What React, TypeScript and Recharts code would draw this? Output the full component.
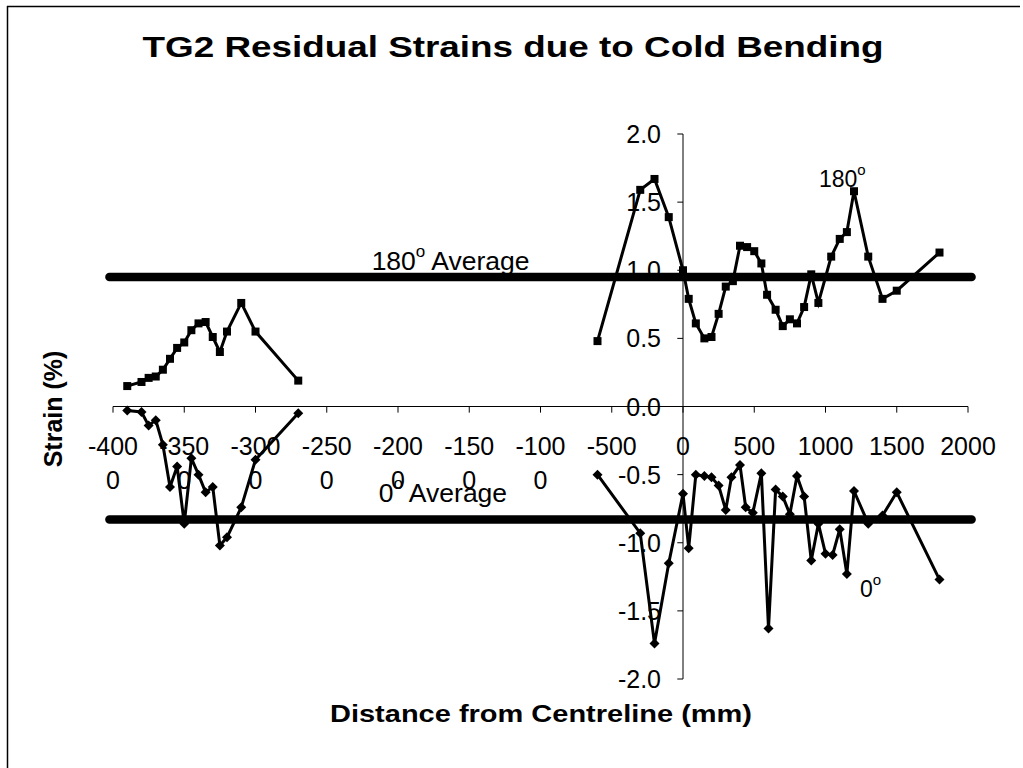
import React from 'react';
import { ComposedChart, Line, XAxis, YAxis, ReferenceLine, ReferenceDot } from 'recharts';

const FONT = '"Liberation Sans", Arial, Helvetica, sans-serif';

// ---- data ----
const left180X = [-3900, -3800, -3750, -3700, -3650, -3600, -3550, -3500, -3450, -3400, -3350, -3300, -3250, -3200, -3100, -3000, -2700];
const left180Y = [0.15, 0.18, 0.21, 0.22, 0.27, 0.35, 0.43, 0.47, 0.56, 0.61, 0.62, 0.51, 0.40, 0.55, 0.76, 0.55, 0.19];
const left0X = [-3900, -3800, -3750, -3700, -3650, -3600, -3550, -3500, -3450, -3400, -3350, -3300, -3250, -3200, -3100, -3000, -2700];
const left0Y = [-0.03, -0.04, -0.14, -0.10, -0.28, -0.59, -0.44, -0.86, -0.38, -0.50, -0.63, -0.59, -1.02, -0.96, -0.74, -0.39, -0.05];

const right180X = [-600, -300, -200, -100, 0, 40, 90, 150, 200, 250, 300, 350, 400, 450, 500, 550, 590, 650, 700, 750, 800, 850, 900, 950, 1040, 1100, 1150, 1200, 1300, 1400, 1500, 1800];
const right180Y = [0.48, 1.59, 1.67, 1.39, 1.00, 0.79, 0.61, 0.50, 0.51, 0.68, 0.88, 0.92, 1.18, 1.17, 1.14, 1.05, 0.82, 0.71, 0.59, 0.64, 0.61, 0.73, 0.97, 0.76, 1.10, 1.23, 1.28, 1.58, 1.10, 0.79, 0.85, 1.13];
const right0X = [-600, -300, -200, -100, 0, 40, 90, 150, 200, 250, 300, 340, 400, 440, 490, 550, 600, 650, 700, 750, 800, 850, 900, 950, 1000, 1050, 1100, 1150, 1200, 1300, 1400, 1500, 1800];
const right0Y = [-0.50, -0.93, -1.74, -1.15, -0.64, -1.04, -0.50, -0.51, -0.52, -0.58, -0.76, -0.52, -0.43, -0.74, -0.78, -0.49, -1.63, -0.61, -0.66, -0.79, -0.51, -0.66, -1.13, -0.86, -1.08, -1.09, -0.90, -1.23, -0.62, -0.86, -0.80, -0.63, -1.27];

const avg180 = 0.95;
const avg0 = -0.83;
const avgLineX = [-4025, 2025];

const xTicks = [-4000, -3500, -3000, -2500, -2000, -1500, -1000, -500, 0, 500, 1000, 1500, 2000];
const yTicks = [-2.0, -1.5, -1.0, -0.5, 0.0, 0.5, 1.0, 1.5, 2.0];

const title = 'TG2 Residual Strains due to Cold Bending';
const xTitle = 'Distance from Centreline (mm)';
const yTitle = 'Strain (%)';

// annotation anchors (data coords)
const ann180Avg = { x: -2185, y: 1.0, main: '180', rest: ' Average', fs: 26.5 };
const ann0Avg = { x: -2135, y: -0.70, main: '0', rest: ' Average', fs: 26.5 };
const ann180 = { x: 954, y: 1.61, main: '180', rest: '', fs: 23 };
const ann0 = { x: 1242, y: -1.40, main: '0', rest: '', fs: 23 };

const toPts = (xs: number[], ys: number[]) => xs.map((x, i) => ({ x, y: ys[i] }));

const Square = (p: any) => (
  <rect key={`s${p.index}`} x={p.cx - 4} y={p.cy - 4} width={8} height={8} fill="#000" />
);
const Diamond = (p: any) => (
  <polygon key={`d${p.index}`} points={`${p.cx},${p.cy - 5} ${p.cx + 5},${p.cy} ${p.cx},${p.cy + 5} ${p.cx - 5},${p.cy}`} fill="#000" />
);

const xLabelLines = (v: number) => {
  const s = String(v);
  return s.length > 4 ? [s.slice(0, 4), s.slice(4)] : [s];
};

const TICK_FS = 25;

const XTickText = ({ viewBox, lines }: any) => {
  if (!viewBox) return null;
  const cx = viewBox.x + (viewBox.width || 0) / 2;
  const cy = viewBox.y + (viewBox.height || 0) / 2;
  return (
    <text textAnchor="middle" fontSize={TICK_FS} fontFamily={FONT} fill="#000">
      {lines.map((l: string, i: number) => (
        <tspan key={i} x={cx} y={cy + 48 + i * 34}>{l}</tspan>
      ))}
    </text>
  );
};

const YTickText = ({ viewBox, label }: any) => {
  if (!viewBox) return null;
  const cx = viewBox.x + (viewBox.width || 0) / 2;
  const cy = viewBox.y + (viewBox.height || 0) / 2;
  return (
    <text x={cx - 22} y={cy + 9} textAnchor="end" fontSize={TICK_FS} fontFamily={FONT} fill="#000">{label}</text>
  );
};

const AnnText = ({ viewBox, main, rest, fs }: any) => {
  if (!viewBox) return null;
  const cx = viewBox.x + (viewBox.width || 0) / 2;
  const cy = viewBox.y + (viewBox.height || 0) / 2;
  const sup = Math.round(fs * 0.65);
  const shift = Math.round(fs * 0.5);
  return (
    <text x={cx} y={cy} textAnchor="start" fontSize={fs} fontFamily={FONT} fill="#000">
      {main}
      <tspan fontSize={sup} dy={-shift}>o</tspan>
      {rest ? <tspan dy={shift}>{rest}</tspan> : null}
    </text>
  );
};

export default function App() {
  const W = 1023;
  const H = 768;
  return (
    <div style={{ position: 'absolute', left: 0, top: 0, width: W, height: H, background: '#fff', overflow: 'hidden' }}>
      <ComposedChart width={W} height={H} margin={{ top: 134, right: 55, bottom: 89, left: 113 }}>
        <XAxis type="number" dataKey="x" domain={[-4000, 2000]} hide allowDataOverflow />
        <YAxis type="number" dataKey="y" domain={[-2, 2]} hide allowDataOverflow />

        <ReferenceLine segment={[{ x: avgLineX[0], y: avg180 }, { x: avgLineX[1], y: avg180 }]} stroke="#000" strokeWidth={8.5} strokeLinecap="round" ifOverflow="visible" />
        <ReferenceLine segment={[{ x: avgLineX[0], y: avg0 }, { x: avgLineX[1], y: avg0 }]} stroke="#000" strokeWidth={8.5} strokeLinecap="round" ifOverflow="visible" />

        <ReferenceLine y={0} stroke="#000" strokeWidth={1} />
        <ReferenceLine x={0} stroke="#000" strokeWidth={1} />
        {xTicks.map((v) => (
          <ReferenceLine key={`xt${v}`} segment={[{ x: v, y: 0 }, { x: v, y: -0.045 }]} stroke="#000" strokeWidth={1} ifOverflow="visible" />
        ))}
        {yTicks.map((v) => (
          <ReferenceLine key={`yt${v}`} segment={[{ x: -40, y: v }, { x: 0, y: v }]} stroke="#000" strokeWidth={1} ifOverflow="visible" />
        ))}
        {xTicks.map((v) => (
          <ReferenceDot key={`xl${v}`} x={v} y={0} r={0} fill="none" stroke="none" ifOverflow="visible"
            label={{ content: (p: any) => <XTickText viewBox={p.viewBox} lines={xLabelLines(v)} /> }} />
        ))}
        {yTicks.map((v) => (
          <ReferenceDot key={`yl${v}`} x={0} y={v} r={0} fill="none" stroke="none" ifOverflow="visible"
            label={{ content: (p: any) => <YTickText viewBox={p.viewBox} label={v.toFixed(1)} /> }} />
        ))}

        <Line data={toPts(left180X, left180Y)} dataKey="y" stroke="#000" strokeWidth={3} dot={Square} isAnimationActive={false} />
        <Line data={toPts(right180X, right180Y)} dataKey="y" stroke="#000" strokeWidth={3} dot={Square} isAnimationActive={false} />
        <Line data={toPts(left0X, left0Y)} dataKey="y" stroke="#000" strokeWidth={3} dot={Diamond} isAnimationActive={false} />
        <Line data={toPts(right0X, right0Y)} dataKey="y" stroke="#000" strokeWidth={3} dot={Diamond} isAnimationActive={false} />

        {[ann180Avg, ann0Avg, ann180, ann0].map((a, i) => (
          <ReferenceDot key={`an${i}`} x={a.x} y={a.y} r={0} fill="none" stroke="none" ifOverflow="visible"
            label={{ content: (p: any) => <AnnText viewBox={p.viewBox} main={a.main} rest={a.rest} fs={a.fs} /> }} />
        ))}
      </ComposedChart>
      <svg width={W} height={H} style={{ position: 'absolute', left: 0, top: 0, pointerEvents: 'none' }}>
        <line x1={7.5} y1={6} x2={7.5} y2={H} stroke="#000" strokeWidth={1.5} />
        <line x1={7} y1={6.5} x2={1020} y2={6.5} stroke="#000" strokeWidth={1.5} />
        <text x={513} y={57} textAnchor="middle" fontSize={29} fontWeight="bold" fontFamily={FONT} fill="#000"
          textLength={741} lengthAdjust="spacingAndGlyphs">{title}</text>
        <text x={541} y={722} textAnchor="middle" fontSize={23} fontWeight="bold" fontFamily={FONT} fill="#000"
          textLength={422} lengthAdjust="spacingAndGlyphs">{xTitle}</text>
        <text transform="translate(62,409) rotate(-90)" x={0} y={0} textAnchor="middle" fontSize={25} fontWeight="bold" fontFamily={FONT} fill="#000">{yTitle}</text>
      </svg>
    </div>
  );
}
